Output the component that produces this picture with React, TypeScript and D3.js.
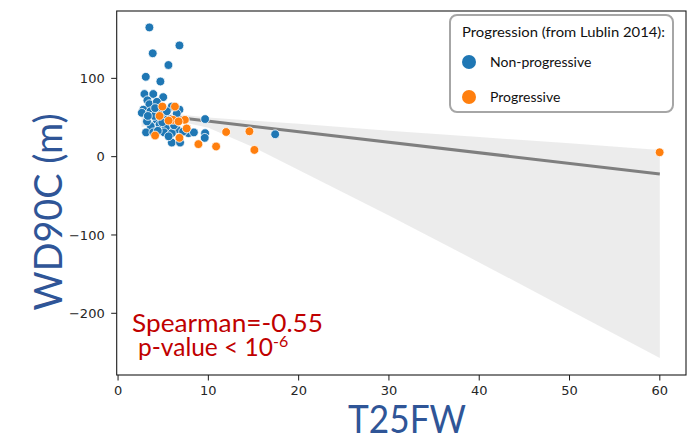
import React from "react";
import * as d3 from "d3";

// T25FW (x) vs WD90C (y), split by progression status
const nonProgressiveX = [3.47, 6.8, 3.84, 5.58, 3.07, 4.69, 2.92, 3.9, 5.0, 3.25, 3.47, 4.3, 2.8, 2.63, 3.6, 5.95, 6.8, 4.28, 5.3, 9.64, 3.62, 4.6, 5.3, 6.5, 3.1, 3.9, 5.1, 5.95, 7.8, 8.4, 9.64, 9.6, 5.95, 6.87, 17.4, 4.0, 4.8, 3.2, 4.4, 5.6, 6.2, 7.2, 4.9, 3.3, 4.1, 5.4, 6.5];
const nonProgressiveY = [165, 142, 132, 117, 102, 96, 80, 80, 76, 72, 67, 70, 60, 56, 58, 64, 60, 47, 49, 48, 39, 41, 37, 35, 31, 31, 31, 30, 30, 31, 30, 24, 18, 18, 28.6, 52, 55, 45, 33, 26, 40, 32, 44, 52, 62, 58, 55];
const progressiveX = [4.91, 6.3, 6.1, 7.4, 6.7, 7.6, 4.1, 6.8, 8.9, 10.86, 11.97, 14.55, 15.1, 59.98, 5.6, 4.6];
const progressiveY = [64, 64, 47, 47, 45, 36, 27, 24, 16, 13, 31.5, 32.4, 8.6, 5.6, 46, 52];

// Regression fit and its confidence band
const fitX = [2.6, 60];
const fitY = [55.4, -22];
const ciX = [2.6, 5, 7.6, 10, 15, 20, 30, 40, 50, 60];
const ciLower = [38, 42, 43, 37, 12, -17, -75, -135, -196, -257];
const ciUpper = [64, 58, 53, 50, 46, 42, 33, 25, 17, 8.5];

const xTicks = [0, 10, 20, 30, 40, 50, 60];
const yTicks = [-200, -100, 0, 100];

const legendTitle = "Progression (from Lublin 2014):";
const groupLabels = ["Non-progressive", "Progressive"];
const groupColors = ["#1f77b4", "#ff7f0e"];

const W = 699;
const H = 435;
const plot = { left: 116.7, right: 686, top: 11, bottom: 375 };
const uiFont = "Lato, 'Open Sans', sans-serif";
const tickFont = "'DejaVu Sans', sans-serif";

export default function App() {
  const x = d3.scaleLinear().domain([-0.15, 62.9]).range([plot.left, plot.right]);
  const y = d3.scaleLinear().domain([-278.8, 186]).range([plot.bottom, plot.top]);

  const band = d3
    .area<number>()
    .x((_, i) => x(ciX[i]))
    .y0((_, i) => y(ciLower[i]))
    .y1((_, i) => y(ciUpper[i]));

  const fitLine = d3
    .line<number>()
    .x((_, i) => x(fitX[i]))
    .y((_, i) => y(fitY[i]));

  const groups = [
    { xs: nonProgressiveX, ys: nonProgressiveY, color: groupColors[0] },
    { xs: progressiveX, ys: progressiveY, color: groupColors[1] },
  ];

  return (
    <svg
      width={W}
      height={H}
      style={{ position: "absolute", left: 0, top: 0, background: "#fff" }}
    >
      <defs>
        <clipPath id="plotClip">
          <rect x={plot.left} y={plot.top} width={plot.right - plot.left} height={plot.bottom - plot.top} />
        </clipPath>
      </defs>

      <g clipPath="url(#plotClip)">
        <path d={band(ciX) ?? ""} fill="#8c8c8c" fillOpacity={0.17} stroke="none" />
        <path d={fitLine(fitX) ?? ""} fill="none" stroke="#7f7f7f" strokeWidth={3} />
        {groups.map((g, gi) =>
          g.xs.map((v, i) => (
            <circle
              key={`${gi}-${i}`}
              cx={x(v)}
              cy={y(g.ys[i])}
              r={4.4}
              fill={g.color}
              stroke="#fff"
              strokeWidth={0.8}
            />
          ))
        )}
      </g>

      {/* frame */}
      <rect
        x={plot.left}
        y={plot.top}
        width={plot.right - plot.left}
        height={plot.bottom - plot.top}
        fill="none"
        stroke="#1a1a1a"
        strokeWidth={1.1}
      />

      {/* x axis */}
      {xTicks.map((t) => (
        <g key={`xt${t}`} transform={`translate(${x(t)},${plot.bottom})`}>
          <line y2={5.5} stroke="#1a1a1a" strokeWidth={1} />
          <text y={20} textAnchor="middle" fontFamily={tickFont} fontSize={13} fill="#262626">
            {t}
          </text>
        </g>
      ))}

      {/* y axis */}
      {yTicks.map((t) => (
        <g key={`yt${t}`} transform={`translate(${plot.left},${y(t)})`}>
          <line x2={-5.5} stroke="#1a1a1a" strokeWidth={1} />
          <text x={-12} dy="0.35em" textAnchor="end" fontFamily={tickFont} fontSize={13} fill="#262626">
            {t < 0 ? `\u2212${Math.abs(t)}` : t}
          </text>
        </g>
      ))}

      {/* axis titles */}
      <text
        x={407}
        y={433}
        textAnchor="middle"
        fontFamily={uiFont}
        fontSize={39}
        fill="#2f5597"
        textLength={118}
        lengthAdjust="spacingAndGlyphs"
      >
        T25FW
      </text>
      <text
        transform="translate(62,212) rotate(-90)"
        textAnchor="middle"
        fontFamily={uiFont}
        fontSize={39}
        fill="#2f5597"
        textLength={197}
        lengthAdjust="spacingAndGlyphs"
      >
        WD90C (m)
      </text>

      {/* correlation annotation */}
      <text x={132} y={332} fontFamily={uiFont} fontSize={25} fill="#c00000" textLength={191} lengthAdjust="spacingAndGlyphs">
        Spearman=-0.55
      </text>
      <text x={138} y={356} fontFamily={uiFont} fontSize={25} fill="#c00000">
        <tspan textLength={135} lengthAdjust="spacingAndGlyphs">p-value &lt; 10</tspan>
        <tspan dy={-9} fontSize={16}>-6</tspan>
      </text>

      {/* legend */}
      <rect x={450} y={15} width={223} height={97} rx={7} fill="#fff" stroke="#a6a6a6" strokeWidth={2} />
      <text x={462} y={37} fontFamily={uiFont} fontSize={14} fill="#111" textLength={203} lengthAdjust="spacingAndGlyphs">
        {legendTitle}
      </text>
      {groupLabels.map((lab, i) => (
        <g key={lab} transform={`translate(0,${i * 35})`}>
          <circle cx={469} cy={62} r={7} fill={groupColors[i]} />
          <text x={490} y={67} fontFamily={uiFont} fontSize={14} fill="#111">
            {lab}
          </text>
        </g>
      ))}
    </svg>
  );
}
